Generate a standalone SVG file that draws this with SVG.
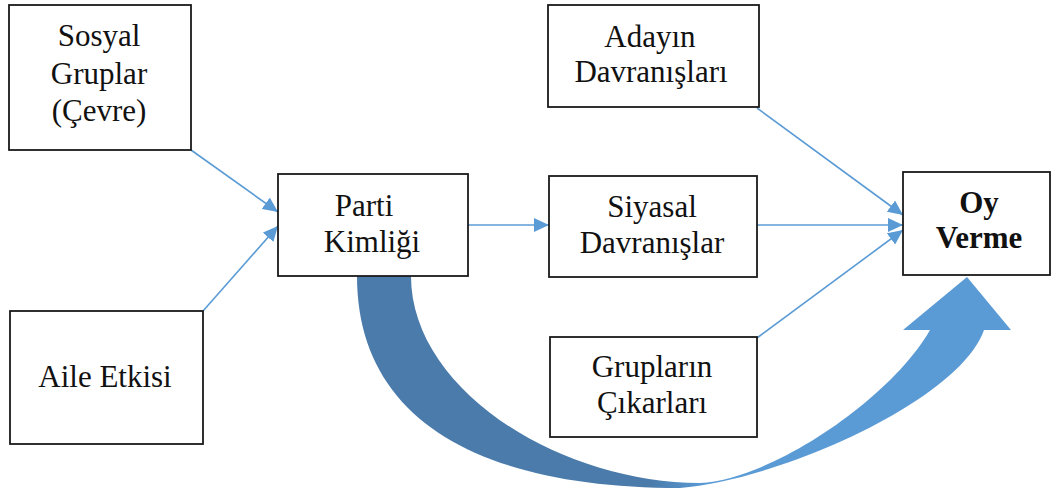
<svg xmlns="http://www.w3.org/2000/svg" width="1057" height="496" viewBox="0 0 1057 496">
<style>
.box{fill:#fff;stroke:#1a1a1a;stroke-width:1.8}
.t{font-size:31px;fill:#111;text-anchor:middle}
.b{font-weight:bold}
.con{stroke:#5b9bd5;stroke-width:1.6;fill:none;marker-end:url(#ah)}
</style>
<defs>
<marker id="ah" markerUnits="userSpaceOnUse" markerWidth="16" markerHeight="14" refX="15" refY="7" orient="auto">
<path d="M0,0 L15,7 L0,14 z" fill="#5b9bd5"/>
</marker>
<linearGradient id="bg" gradientUnits="userSpaceOnUse" x1="357" y1="0" x2="1011" y2="0">
<stop offset="0" stop-color="#4a7bab"/>
<stop offset="0.45" stop-color="#4a7bab"/>
<stop offset="0.53" stop-color="#5b9bd5"/>
<stop offset="1" stop-color="#5b9bd5"/>
</linearGradient>
</defs>
<g id="connectors">
<line class="con" x1="191" y1="150" x2="278" y2="212"/>
<line class="con" x1="203" y1="311" x2="278" y2="226"/>
<line class="con" x1="468" y1="225" x2="549" y2="225"/>
<line class="con" x1="757" y1="108" x2="903" y2="215"/>
<line class="con" x1="757" y1="225" x2="903" y2="225"/>
<line class="con" x1="757" y1="338" x2="903" y2="230"/>
<path id="big-arrow" d="M357,276 L411,276 C411,390 560,483 700,483 C770,480 890,400 930,330 L903,330 L967,277 L1011,330 L984,330 C960,400 780,480 680,488 C480,488 357,420 357,276 Z" fill="url(#bg)"/>
</g>
<g font-family="Liberation Serif, serif">
<g id="sosyal">
<rect class="box" x="9" y="5" width="182" height="145"/>
<text class="t" x="99" y="46">Sosyal</text>
<text class="t" x="99" y="84">Gruplar</text>
<text class="t" x="99" y="121">(Çevre)</text>
</g>
<g id="aile">
<rect class="box" x="10" y="311" width="193" height="133"/>
<text class="t" x="105" y="387">Aile Etkisi</text>
</g>
<g id="parti">
<rect class="box" x="278" y="174" width="190" height="102"/>
<text class="t" x="364" y="216">Parti</text>
<text class="t" x="372" y="252">Kimliği</text>
</g>
<g id="adayin">
<rect class="box" x="548" y="5" width="211" height="102"/>
<text class="t" x="650" y="47">Adayın</text>
<text class="t" x="651" y="82">Davranışları</text>
</g>
<g id="siyasal">
<rect class="box" x="549" y="176" width="208" height="101"/>
<text class="t" x="652" y="217">Siyasal</text>
<text class="t" x="652" y="253">Davranışlar</text>
</g>
<g id="gruplarin">
<rect class="box" x="550" y="337" width="207" height="100"/>
<text class="t" x="652" y="377">Grupların</text>
<text class="t" x="652" y="413">Çıkarları</text>
</g>
<g id="oy">
<rect class="box" x="903" y="172" width="147" height="103"/>
<text class="t b" x="979" y="213">Oy</text>
<text class="t b" x="979" y="248">Verme</text>
</g>
</g>
</svg>
